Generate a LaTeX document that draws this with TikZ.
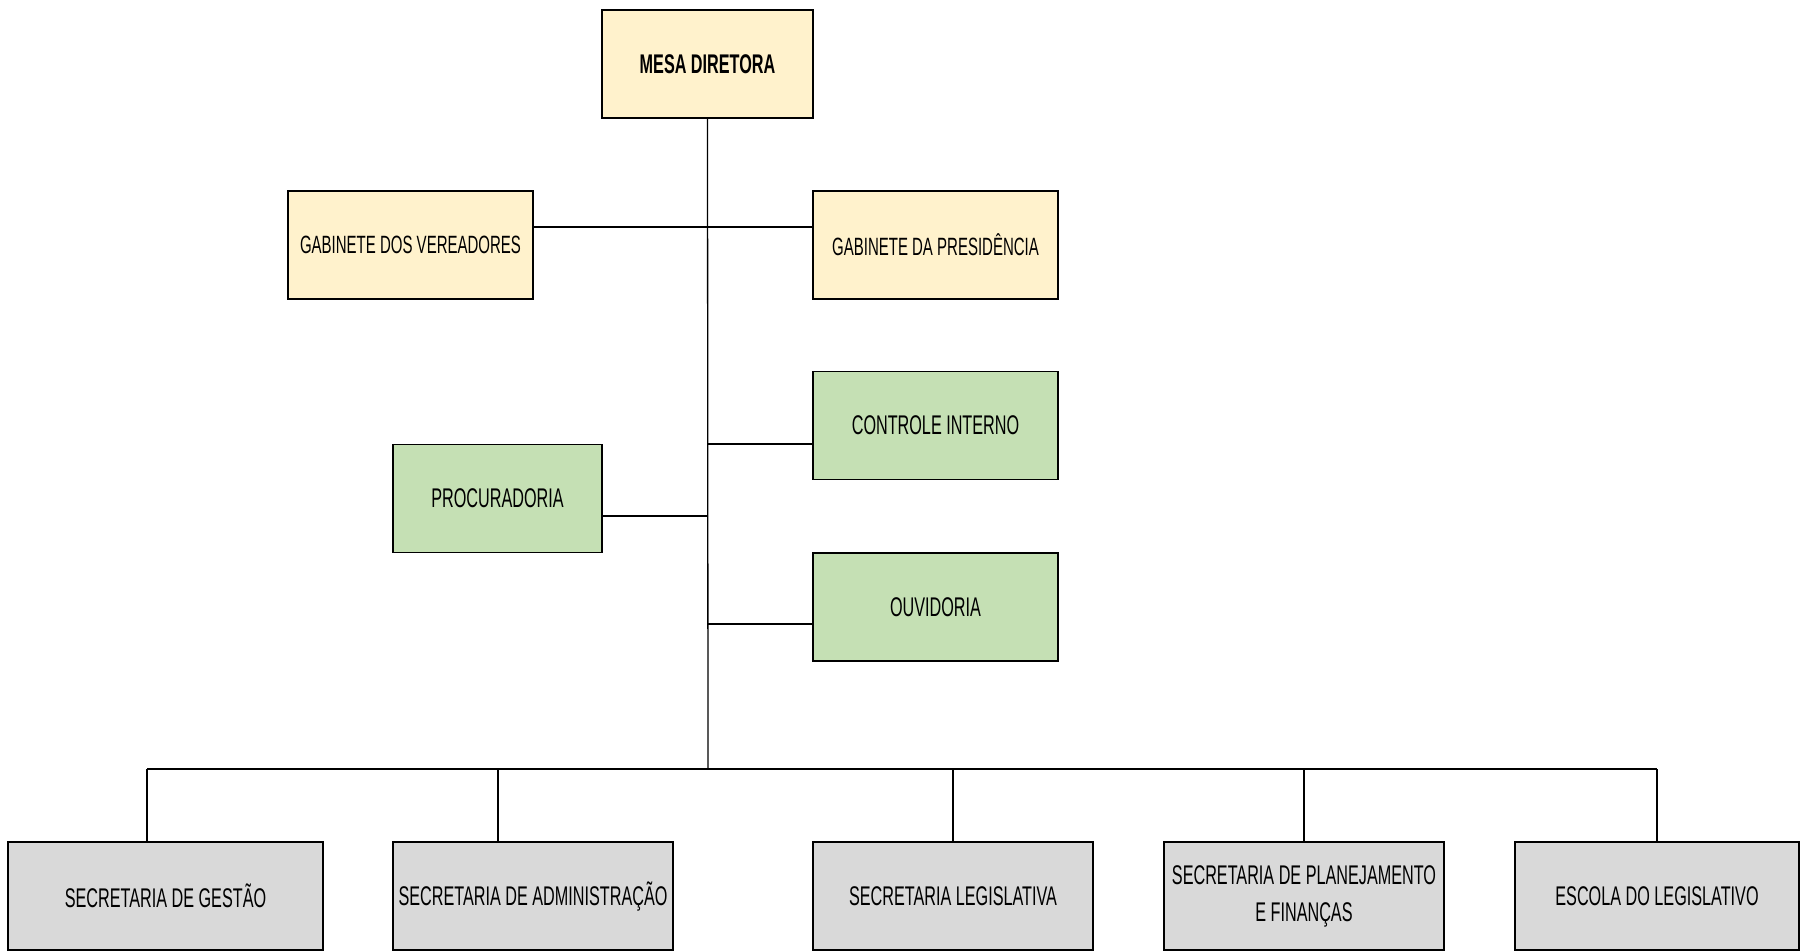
\documentclass[tikz,border=0pt]{standalone}
\usepackage{fontspec}
\setmainfont{Liberation Sans}[FakeStretch=0.6]
\definecolor{boxyellow}{HTML}{FFF2CC}
\definecolor{boxgreen}{HTML}{C5E0B4}
\definecolor{boxgray}{HTML}{D9D9D9}
\tikzset{
  orgbox/.style={draw=black, line width=1.2pt, inner sep=0pt, minimum height=108pt, align=center,
    font=\fontsize{27}{37}\selectfont},
  ybox/.style={orgbox, fill=boxyellow},
  gbox/.style={orgbox, fill=boxgreen},
  sbox/.style={orgbox, fill=boxgray},
  link/.style={draw=black, line width=1.3pt}
}
\begin{document}
\begin{tikzpicture}[x=1pt,y=-1pt]
\useasboundingbox (0,0) rectangle (1813,951);
% top level
\node[ybox, minimum width=211pt, font=\fontsize{27}{37}\selectfont\bfseries] (mesa) at (707.5,64) {MESA DIRETORA};
\node[ybox, minimum width=245pt, font=\fontsize{25}{34}\selectfont] (gdv) at (410.5,245) {GABINETE DOS VEREADORES};
\node[ybox, minimum width=245pt, font=\fontsize{25}{34}\selectfont] (gdp) at (935.5,245) {GABINETE DA PRESIDÊNCIA};
\node[gbox, minimum width=245pt] (ci) at (935.5,425.5) {CONTROLE INTERNO};
\node[gbox, minimum width=209pt] (proc) at (497.5,498.5) {PROCURADORIA};
\node[gbox, minimum width=245pt] (ouv) at (935.5,607) {OUVIDORIA};
% bottom level
\node[sbox, minimum width=315pt] (ges) at (165.5,896) {SECRETARIA DE GESTÃO};
\node[sbox, minimum width=280pt] (adm) at (533,896) {SECRETARIA DE ADMINISTRAÇÃO};
\node[sbox, minimum width=280pt] (leg) at (953,896) {SECRETARIA LEGISLATIVA};
\node[sbox, minimum width=280pt] (plan) at (1304,896) {SECRETARIA DE PLANEJAMENTO\\E FINANÇAS};
\node[sbox, minimum width=284pt] (esc) at (1657,896) {ESCOLA DO LEGISLATIVO};
% junction coordinates
\coordinate (bus) at (708,769);
\coordinate (jg) at (708,227);
\coordinate (jci) at (708,444);
\coordinate (jpr) at (708,516);
\coordinate (jou) at (708,624);
\coordinate (d1) at (147,769);
\coordinate (d2) at (498,769);
\coordinate (d3) at (953,769);
\coordinate (d4) at (1304,769);
\coordinate (d5) at (1657,769);
% connectors
\draw[link] (mesa.south) -- (bus);
\draw[link] (jg -| gdv.east) -- (jg -| gdp.west);
\draw[link] (jci) -- (jci -| ci.west);
\draw[link] (jpr) -- (jpr -| proc.east);
\draw[link] (jou) -- (jou -| ouv.west);
\draw[link] (d1) -- (d5);
\draw[link] (d1) -- (d1 |- ges.north);
\draw[link] (d2) -- (d2 |- adm.north);
\draw[link] (d3) -- (d3 |- leg.north);
\draw[link] (d4) -- (d4 |- plan.north);
\draw[link] (d5) -- (d5 |- esc.north);
\end{tikzpicture}
\end{document}
